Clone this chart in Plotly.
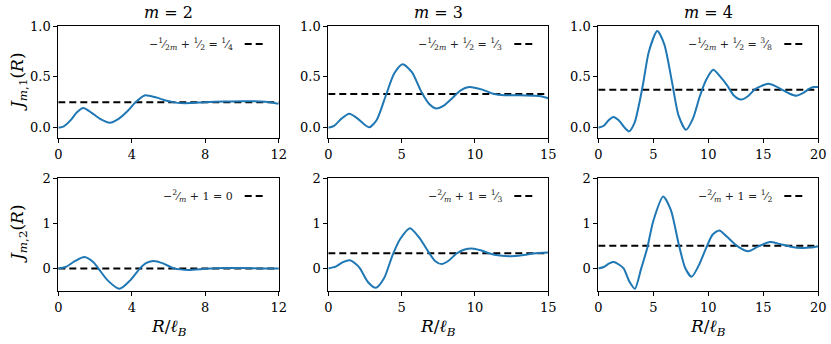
import plotly.graph_objects as go

# values
x_m2_j1 = [0, 0.3, 0.7, 1.0, 1.36, 1.8, 2.3, 2.8, 3.3, 3.8, 4.2, 4.7, 5.3, 5.9, 6.5, 7.2, 8, 9, 10, 11, 11.5, 12]
y_m2_j1 = [0, 0.015, 0.08, 0.15, 0.195, 0.15, 0.085, 0.05, 0.09, 0.17, 0.25, 0.318, 0.3, 0.265, 0.245, 0.243, 0.252, 0.258, 0.262, 0.258, 0.25, 0.235]

x_m3_j1 = [0, 0.4, 0.9, 1.43, 2.0, 2.4, 2.8, 3.3, 3.93, 4.5, 5.07, 5.7, 6.36, 6.9, 7.34, 7.9, 8.5, 9.0, 9.6, 10.5, 11.25, 12, 13, 14, 14.5, 15]
y_m3_j1 = [0, 0.02, 0.09, 0.137, 0.09, 0.04, 0.005, 0.077, 0.32, 0.535, 0.625, 0.547, 0.35, 0.231, 0.19, 0.221, 0.298, 0.365, 0.40, 0.375, 0.335, 0.32, 0.32, 0.315, 0.31, 0.29]

x_m4_j1 = [0, 0.5, 0.9, 1.36, 1.9, 2.4, 2.8, 3.3, 3.8, 4.1, 4.6, 5.36, 6.0, 6.7, 7.3, 7.97, 8.6, 9.2, 9.8, 10.45, 11.1, 11.7, 12.3, 12.97, 13.6, 14.2, 14.8, 15.45, 16.1, 16.7, 17.4, 18.03, 18.6, 19.2, 19.6, 20]
y_m4_j1 = [0, 0.02, 0.07, 0.107, 0.07, 0.0, -0.035, 0.05, 0.28, 0.45, 0.75, 0.95, 0.82, 0.45, 0.12, -0.02, 0.09, 0.3, 0.47, 0.57, 0.5, 0.42, 0.32, 0.277, 0.31, 0.375, 0.41, 0.433, 0.41, 0.375, 0.335, 0.316, 0.34, 0.385, 0.40, 0.40]

x_m2_j2 = [0, 0.4, 0.9, 1.42, 1.9, 2.18, 2.7, 3.33, 3.9, 4.45, 4.8, 5.2, 5.7, 6.3, 7.1, 8, 9, 10, 11, 12]
y_m2_j2 = [0, 0.03, 0.16, 0.25, 0.14, 0.0, -0.27, -0.45, -0.27, 0.0, 0.12, 0.163, 0.11, 0.0, -0.035, -0.01, 0.01, 0.01, 0.0, 0.0]

x_m3_j2 = [0, 0.5, 1.0, 1.48, 1.9, 2.16, 2.7, 3.25, 3.8, 4.39, 4.9, 5.57, 6.2, 6.9, 7.3, 7.73, 8.2, 8.75, 9.3, 9.93, 10.5, 11.0, 11.7, 12.4, 13.2, 14, 15]
y_m3_j2 = [0, 0.04, 0.14, 0.18, 0.09, 0.0, -0.3, -0.43, -0.22, 0.3, 0.65, 0.89, 0.68, 0.33, 0.16, 0.096, 0.17, 0.33, 0.42, 0.437, 0.39, 0.33, 0.285, 0.27, 0.29, 0.33, 0.35]

x_m4_j2 = [0, 0.5, 1.0, 1.42, 1.9, 2.3, 2.85, 3.33, 3.9, 4.45, 5.0, 5.9, 6.6, 7.27, 7.9, 8.48, 9.1, 9.8, 10.4, 11.0, 11.7, 12.6, 13.64, 14.5, 15.6, 16.5, 17.5, 18.5, 19.3, 20]
y_m4_j2 = [0, 0.03, 0.11, 0.14, 0.08, 0.0, -0.3, -0.45, 0.0, 0.45, 1.05, 1.59, 1.29, 0.58, 0.01, -0.185, 0.05, 0.45, 0.75, 0.84, 0.7, 0.5, 0.38, 0.48, 0.585, 0.54, 0.48, 0.45, 0.46, 0.49]

m_values = [2, 3, 4]
x_max = [12, 15, 20]
x_ticks = [[0, 4, 8, 12], [0, 5, 10, 15], [0, 5, 10, 15, 20]]
level_j1 = [1 / 4, 1 / 3, 3 / 8]
level_j2 = [0, 1 / 3, 1 / 2]
label_j1 = ["1⁄4", "1⁄3", "3⁄8"]
label_j2 = ["0", "1⁄3", "1⁄2"]

curves_j1 = [(x_m2_j1, y_m2_j1), (x_m3_j1, y_m3_j1), (x_m4_j1, y_m4_j1)]
curves_j2 = [(x_m2_j2, y_m2_j2), (x_m3_j2, y_m3_j2), (x_m4_j2, y_m4_j2)]

W, H = 831, 344
FONT = "DejaVu Serif"
BLUE = "#1f77b4"

col_px = [(58.3, 278.7), (328.3, 548.3), (598.3, 818.3)]
row_px = [(26, 138), (178, 291)]


def frac(s):
    if "⁄" not in s:
        return s
    a, b = s.split("⁄")
    return f"<sup>{a}</sup>⁄<sub>{b}</sub>"


fig = go.Figure()
layout = dict(width=W, height=H, margin=dict(l=0, r=0, t=0, b=0, autoexpand=False),
              plot_bgcolor="white", paper_bgcolor="white", showlegend=False,
              font=dict(family=FONT, size=13, color="black"))
annotations = []
shapes = []

for r, (curves, levels, labels) in enumerate([(curves_j1, level_j1, label_j1), (curves_j2, level_j2, label_j2)]):
    for c in range(3):
        k = r * 3 + c + 1
        xa = "x" if k == 1 else f"x{k}"
        ya = "y" if k == 1 else f"y{k}"
        xs, ys = curves[c]
        fig.add_trace(go.Scatter(x=[0, x_max[c]], y=[levels[c]] * 2, mode="lines",
                                 line=dict(color="black", width=2, dash="7px,4px"),
                                 xaxis=xa, yaxis=ya))
        fig.add_trace(go.Scatter(x=xs, y=ys, mode="lines",
                                 line=dict(color=BLUE, width=2, shape="spline", smoothing=0.7),
                                 xaxis=xa, yaxis=ya))
        y0, y1 = row_px[r]
        x0, x1 = col_px[c]
        ax_common = dict(showgrid=False, zeroline=False, showline=True, mirror=True,
                         linecolor="black", linewidth=1, ticks="outside", ticklen=4,
                         tickcolor="black", automargin=False,
                         tickfont=dict(size=13, family=FONT))
        layout["xaxis" if k == 1 else f"xaxis{k}"] = dict(
            ax_common, domain=[x0 / W, x1 / W], anchor=ya, range=[0, x_max[c]],
            tickvals=x_ticks[c], ticktext=[str(t) for t in x_ticks[c]])
        if r == 0:
            yax = dict(range=[-0.1, 1.0], tickvals=[0, 0.5, 1.0], ticktext=["0.0", "0.5", "1.0"])
        else:
            yax = dict(range=[-0.5, 2.0], tickvals=[0, 1, 2], ticktext=["0", "1", "2"])
        layout["yaxis" if k == 1 else f"yaxis{k}"] = dict(
            ax_common, domain=[1 - y1 / H, 1 - y0 / H], anchor=xa, **yax)

        # legend: label then dashed handle
        if r == 0:
            txt = f"−<sup>1</sup>⁄<sub>2<i>m</i></sub> + <sup>1</sup>⁄<sub>2</sub> = {frac(labels[c])}"
        else:
            txt = f"−<sup>2</sup>⁄<sub><i>m</i></sub> + 1 = {frac(labels[c])}"
        leg_y = 1 - (y0 + 18) / H
        annotations.append(dict(text=txt, x=(x1 - 44) / W, y=leg_y, xref="paper", yref="paper",
                                xanchor="right", yanchor="middle", showarrow=False,
                                font=dict(size=11, family=FONT, color="#222222")))
        shapes.append(dict(type="line", xref="paper", yref="paper",
                           x0=(x1 - 34) / W, x1=(x1 - 14) / W, y0=leg_y, y1=leg_y,
                           line=dict(color="black", width=2, dash="7px,4px")))

        if r == 0:
            annotations.append(dict(text=f"<i>m</i> = {m_values[c]}", x=(x0 + x1) / 2 / W, y=1 - 13 / H,
                                    xref="paper", yref="paper", showarrow=False,
                                    xanchor="center", yanchor="middle", font=dict(size=16, family=FONT)))
        else:
            annotations.append(dict(text="<i>R</i>/<i>ℓ</i><sub><i>B</i></sub>", x=(x0 + x1) / 2 / W, y=1 - 327 / H,
                                    xref="paper", yref="paper", showarrow=False,
                                    xanchor="center", yanchor="middle", font=dict(size=17, family=FONT)))

annotations.append(dict(text="<i>J</i><sub><i>m</i>,1</sub>(<i>R</i>)", x=18 / W, y=1 - 82 / H,
                        xref="paper", yref="paper", showarrow=False, textangle=-90,
                        xanchor="center", yanchor="middle", font=dict(size=17, family=FONT)))
annotations.append(dict(text="<i>J</i><sub><i>m</i>,2</sub>(<i>R</i>)", x=18 / W, y=1 - 234 / H,
                        xref="paper", yref="paper", showarrow=False, textangle=-90,
                        xanchor="center", yanchor="middle", font=dict(size=17, family=FONT)))

layout["annotations"] = annotations
layout["shapes"] = shapes
fig.update_layout(**layout)
fig.write_html("out.html", config={"displayModeBar": False},
               post_script="document.body.style.margin='0';")
